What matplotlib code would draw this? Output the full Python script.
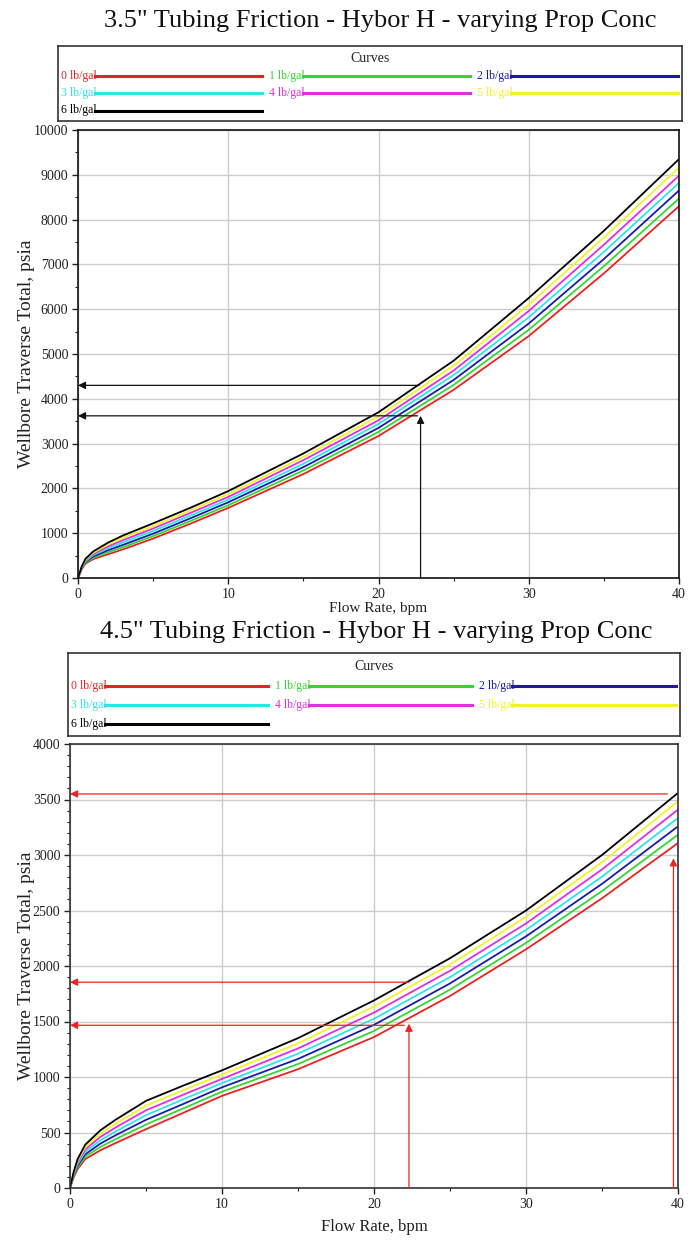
import matplotlib
matplotlib.use('Agg')
import matplotlib.pyplot as plt
from matplotlib.ticker import MultipleLocator

plt.rcParams['font.family'] = ['Liberation Serif', 'DejaVu Serif']

# ---------------- data ----------------
flow = [0, 0.25, 0.5, 1, 2, 3, 5, 7.5, 10, 15, 20, 25, 30, 35, 40]
conc_labels = ['0 lb/gal', '1 lb/gal', '2 lb/gal', '3 lb/gal', '4 lb/gal', '5 lb/gal', '6 lb/gal']
colors = ['#e8231f', '#33d633', '#1a1aa8', '#2ae6e6', '#e02ee0', '#f2f22a', '#000000']

# 3.5" tubing, wellbore traverse total (psia)
t35_0 = [0, 200, 320, 420, 530, 640, 880, 1215, 1565, 2320, 3170, 4200, 5400, 6800, 8300]
t35_1 = [0, 210, 340, 450, 575, 690, 935, 1275, 1625, 2400, 3260, 4310, 5540, 6960, 8470]
t35_2 = [0, 220, 360, 480, 620, 740, 990, 1335, 1690, 2475, 3350, 4420, 5680, 7120, 8650]
t35_3 = [0, 230, 375, 510, 660, 795, 1050, 1395, 1750, 2550, 3440, 4530, 5820, 7280, 8820]
t35_4 = [0, 240, 395, 535, 705, 845, 1105, 1455, 1810, 2630, 3520, 4630, 5960, 7440, 8980]
t35_5 = [0, 250, 410, 560, 750, 900, 1160, 1510, 1875, 2700, 3610, 4740, 6100, 7600, 9160]
t35_6 = [0, 260, 430, 590, 790, 950, 1220, 1570, 1940, 2780, 3700, 4850, 6250, 7750, 9350]

# 4.5" tubing
t45_0 = [0, 100, 170, 260, 340, 405, 530, 680, 830, 1070, 1360, 1730, 2150, 2610, 3108]
t45_1 = [0, 108, 185, 282, 370, 440, 572, 720, 868, 1117, 1415, 1787, 2208, 2675, 3183]
t45_2 = [0, 117, 200, 303, 400, 475, 614, 760, 907, 1163, 1470, 1843, 2267, 2740, 3258]
t45_3 = [0, 125, 215, 325, 430, 510, 656, 802, 945, 1210, 1525, 1900, 2325, 2805, 3334]
t45_4 = [0, 133, 230, 347, 460, 545, 700, 843, 983, 1257, 1580, 1957, 2383, 2870, 3409]
t45_5 = [0, 142, 245, 368, 490, 580, 742, 884, 1022, 1303, 1635, 2013, 2442, 2935, 3484]
t45_6 = [0, 150, 260, 390, 520, 615, 785, 925, 1060, 1350, 1690, 2070, 2500, 3000, 3559]

# annotation arrows (rate, pressure)
top_h_arrows = [(22.7, 4300), (22.6, 3620)]
top_v_arrows = [(22.8, 3620)]
bot_h_arrows = [(39.3, 3550), (22.3, 1854), (22.0, 1466)]
bot_v_arrows = [(22.3, 1480), (39.7, 2970)]

title_top = '3.5" Tubing Friction - Hybor H - varying Prop Conc'
title_bot = '4.5" Tubing Friction - Hybor H - varying Prop Conc'
xlab = 'Flow Rate, bpm'
ylab = 'Wellbore Traverse Total, psia'

W, H = 696, 1245
fig = plt.figure(figsize=(W / 100, H / 100), dpi=100)


def px(x0, y0, x1, y1):
    return [x0 / W, 1 - y1 / H, (x1 - x0) / W, (y1 - y0) / H]


def draw_chart(ax, series, ymax, ymajor, yminor, spine_color, ylab_x):
    for vals, c in zip(series, colors):
        ax.plot(flow, vals, color=c, lw=1.3, solid_joinstyle='round')
    ax.set_xlim(0, 40)
    ax.set_ylim(0, ymax)
    ax.xaxis.set_major_locator(MultipleLocator(10))
    ax.xaxis.set_minor_locator(MultipleLocator(5))
    ax.yaxis.set_major_locator(MultipleLocator(ymajor))
    ax.yaxis.set_minor_locator(MultipleLocator(yminor))
    ax.grid(True, which='major', color='#cccccc', lw=1.0)
    ax.set_axisbelow(True)
    ax.tick_params(which='major', direction='out', length=4, width=1, labelsize=10,
                   color='#222222', labelcolor='#222222', pad=3)
    ax.tick_params(which='minor', direction='out', length=2.5, width=0.8, color='#222222')
    for s in ax.spines.values():
        s.set_color(spine_color)
        s.set_linewidth(1.2)
    ax.set_ylabel(ylab, fontsize=14, color='#222222')
    ax.yaxis.set_label_coords(ylab_x, 0.5)


def arrows(ax, harr, varr, color):
    kw = dict(arrowstyle='-|>', color=color, lw=0.9, mutation_scale=11,
              shrinkA=0, shrinkB=0)
    for x, y in harr:
        ax.annotate('', xy=(0, y), xytext=(x, y), arrowprops=kw)
    for x, y in varr:
        ax.annotate('', xy=(x, y), xytext=(x, 0), arrowprops=kw)


def legend_box(rect):
    lg = fig.add_axes(rect)
    lg.set_xlim(0, 1)
    lg.set_ylim(1, 0)
    lg.set_xticks([])
    lg.set_yticks([])
    for s in lg.spines.values():
        s.set_color('#333333')
        s.set_linewidth(1.2)
    lg.text(0.5, 0.16, 'Curves', ha='center', va='center', fontsize=10, color='#222222')
    rows = [0.40, 0.63, 0.86]
    for i, (lab, c) in enumerate(zip(conc_labels, colors)):
        r, col = divmod(i, 3)
        x0 = 0.005 + col * 0.333
        y = rows[r]
        lg.text(x0, y, lab, ha='left', va='center', fontsize=8.5, color=c)
        lg.plot([x0 + 0.055, x0 + 0.322], [y, y], color=c, lw=2.2)
    return lg


# top chart
ax1 = fig.add_axes(px(78, 130, 679, 578))
draw_chart(ax1, [t35_0, t35_1, t35_2, t35_3, t35_4, t35_5, t35_6], 10000, 1000, 500,
           '#111111', (35 - 78) / 601)
arrows(ax1, top_h_arrows, top_v_arrows, '#111111')
ax1.set_xlabel(xlab, fontsize=11, color='#222222', labelpad=1)
fig.text(380 / W, 1 - 21 / H, title_top, ha='center', va='center', fontsize=19, color='#111111')
legend_box(px(58, 46, 682, 121))

# bottom chart
ax2 = fig.add_axes(px(70, 744, 678, 1188))
draw_chart(ax2, [t45_0, t45_1, t45_2, t45_3, t45_4, t45_5, t45_6], 4000, 500, 100,
           '#333333', (35 - 70) / 608)
arrows(ax2, bot_h_arrows, bot_v_arrows, '#ee2222')
ax2.set_xlabel(xlab, fontsize=12, color='#222222', labelpad=6)

fig.text(376 / W, 1 - 632 / H, title_bot, ha='center', va='center', fontsize=19,
         color='#111111')
legend_box(px(68, 653, 680, 736))

fig.savefig('out.png', dpi=100, facecolor='white')
